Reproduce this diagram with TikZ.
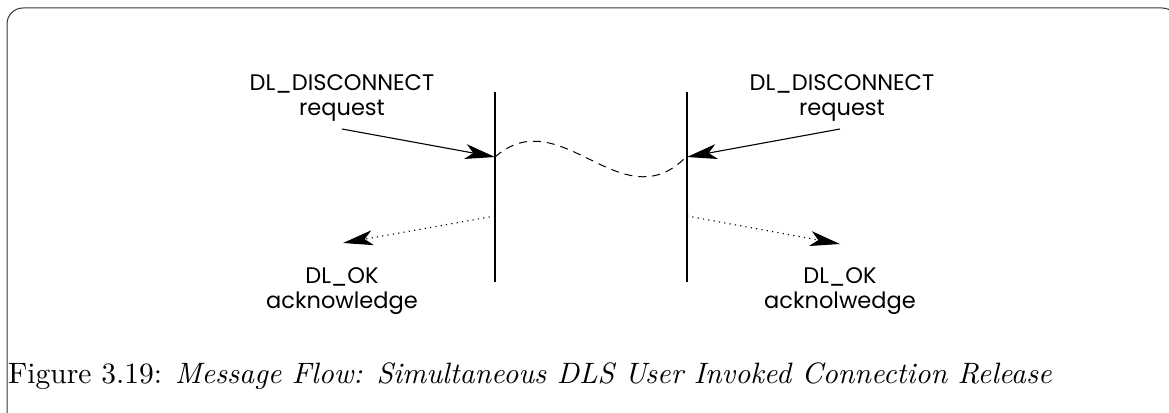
\documentclass[tikz,border=0pt]{standalone}
\usepackage{fontspec}
\newfontfamily\labelfont{Poppins}
% caption face: the 10pt design of Latin Modern, enlarged
\newfontfamily\capfont{lmroman10-regular.otf}[ItalicFont=lmroman10-italic.otf]
\usetikzlibrary{arrows.meta}
\begin{document}
\begin{tikzpicture}[x=1pt,y=-1pt,
  lbl/.style={font=\labelfont\fontsize{22.5}{25}\selectfont, align=center, inner sep=0pt, anchor=base},
  tip/.style={-{Stealth[length=30pt,width=15pt,inset=8pt]}},
  msg/.style={tip, line width=1.1pt},
  ack/.style={tip, line width=1.1pt, dash pattern=on 1.2pt off 4.2pt},
  party/.style={line width=1.8pt},
  link/.style={line width=1pt, dash pattern=on 8pt off 6pt},
  captext/.style={anchor=base west, inner sep=0pt}]
\useasboundingbox (0,0) rectangle (1169,412);

% outer frame (open to the right and below)
\draw[line width=1pt, black!80, rounded corners=16pt] (7,430) -- (7,8) -- (1178,8) -- (1178,430);

% the two DLS users
\coordinate (Ltop) at (495,92);
\coordinate (Lbot) at (495,282);
\coordinate (Rtop) at (687,92);
\coordinate (Rbot) at (687,282);
\draw[party] (Ltop) -- (Lbot);
\draw[party] (Rtop) -- (Rbot);

% request labels (anchored at the baseline of the last line)
\node[lbl] (reqL) at (342,115) {DL\_DISCONNECT\\request};
\node[lbl] (reqR) at (842,115) {DL\_DISCONNECT\\request};

% acknowledge labels
\node[lbl] (ackL) at (342,308) {DL\_OK\\acknowledge};
\node[lbl] (ackR) at (840,308) {DL\_OK\\acknolwedge};

% arrow end points
\coordinate (reqLs) at (342,129);
\coordinate (reqLe) at (495,157);
\coordinate (reqRs) at (840,129);
\coordinate (reqRe) at (687,157);
\coordinate (ackLs) at (495,216);
\coordinate (ackLe) at (343,243);
\coordinate (ackRs) at (687,216);
\coordinate (ackRe) at (840,244);

\draw[msg] (reqLs) -- (reqLe);
\draw[msg] (reqRs) -- (reqRe);
\draw[ack] (ackLs) -- (ackLe);
\draw[ack] (ackRs) -- (ackRe);

% crossing of the two requests
\coordinate (linkE) at (684,159);
\draw[link] (reqLe) .. controls (560,100) and (620,220) .. (linkE);

% caption
\node[captext] (cap) at (8,383)
  {\capfont\fontsize{29.5}{34}\selectfont Figure 3.19: \textit{Message Flow: Simultaneous DLS User Invoked Connection Release}};
\end{tikzpicture}
\end{document}
